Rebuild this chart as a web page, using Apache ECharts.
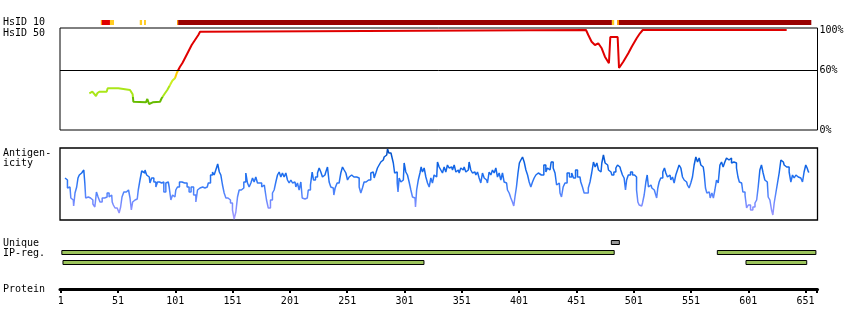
<!DOCTYPE html>
<html><head><meta charset="utf-8">
<script src="https://cdn.jsdelivr.net/npm/echarts@6/dist/echarts.min.js"></script>
<style>html,body{margin:0;padding:0;background:#fff}#c{width:850px;height:330px}</style>
</head><body><div id="c"></div>
<script>
// ---------------- data ----------------
const positionTicks = [1, 51, 101, 151, 201, 251, 301, 351, 401, 451, 501, 551, 601, 651];
const proteinEnd = 661;

// HsID 10 identity blocks (start residue, end residue, class)
const hsid10Start = [36, 37, 44, 70, 73.7, 102.5, 103.5, 482, 486.5, 488.2];
const hsid10End   = [37, 44, 47.5, 72, 75.4, 103.5, 482, 484, 488.2, 656];
const hsid10Class = ['orange', 'red', 'yellow', 'yellow', 'yellow', 'orange', 'darkred', 'yellow', 'orange', 'darkred'];

// HsID 50 identity (%) along the protein
const hsid50 = [
  [26.0,36.7],[27.4,37.7],[28.6,38.3],[30.1,36.7],[31.8,34],[32.9,36.7],[34.7,38.3],[41.1,38.3],[42.0,41.7],
  [51.3,41.7],[52.1,40],[61.5,40],[63.0,38.3],[63.8,35.7],[64.4,28.3],[75.4,27.7],[76.6,31],[77.4,31],
  [78.1,26],[79.5,26.7],[81.3,27.7],[87.7,28.3],[89.1,31.7],[92.0,36.7],[94.0,40],[96.4,45],[98.4,49.3],
  [100.7,51.7],[102.2,56.7],[103.6,60],[105.1,63.3],[107.1,66.7],[108.6,70],[112.3,78.3],[115.3,85],
  [118.2,90],[121.1,95],[122.6,98.3],[124.0,100],[459.4,100],[461.4,95],[464.3,88.3],[467.2,85],
  [470.1,86.7],[473.1,81.7],[475.9,73.3],[479.4,66.7],[480.0,66],[480.6,93],[487.0,93],[488.2,62],
  [491.9,68.3],[496.3,76.7],[499.3,83.3],[503.6,91.7],[506.5,96.7],[508.9,100],[634.5,100]
];

// Antigenicity profile
const antigenicity = [
  [4.8,42],[6.2,40],[7.6,32],[9.1,33],[10.6,22],[12,20],[12.6,14],[14.4,27],[15.5,33],[16.7,42],[17.8,45],[19.3,47],[20.7,49],[21.6,50],[22.5,37],[23.1,22],[24.2,23],[26,22],[28.1,20],[30.1,16],[31.5,13],[32.9,28],[34.4,23],[36.2,18],[38.2,22],[40.5,23],[42.5,27],[44,23],[45.5,25],[46.4,18],[47.5,15],[49.3,12],[51.3,10],[52.7,7],[53.9,13],[55.1,23],[57.1,28],[59.5,30],[60.9,28],[62.1,22],[63.2,10],[64.4,18],[65.9,20],[67.8,21],[69.6,30],[70.8,40],[72.6,49],[73.7,47],[75.4,50],[76.6,45],[78.3,43],[79.5,37],[81.3,42],[83.3,38],[84.8,33],[86.2,38],[88.3,37],[90,38],[92,28],[93.5,37],[94.9,38],[96.4,33],[97.9,20],[99.3,25],[100.7,23],[102.2,30],[103.6,33],[105.7,38],[108,37],[110.3,37],[112.3,33],[113.8,28],[115.8,33],[118.2,25],[119.7,18],[121.1,30],[122.6,32],[124.9,33],[126.9,32],[128.9,33],[130.7,37],[132.8,45],[134.2,48],[135.6,45],[137.1,50],[138.9,56],[140,48],[141.5,45],[142.9,35],[144.4,27],[145.9,22],[148.1,20],[150.2,17],[151.6,10],[153.1,1],[154.6,8],[156,23],[157.5,30],[159.8,32],[161.8,38],[163.3,47],[164.7,37],[166.2,33],[167.7,37],[169.1,42],[170.5,38],[172,43],[173.4,37],[175.5,37],[177.3,33],[178.7,35],[179.9,30],[181.3,20],[183,12],[185.1,20],[186.5,27],[188,30],[189.5,38],[190.9,45],[192.4,48],[193.8,43],[195.2,47],[196.7,43],[198.2,47],[199.6,40],[201.1,37],[202.6,40],[204,37],[205.5,38],[206.9,33],[208.3,37],[209.8,30],
  [211.3,38],[212.2,22],[214.2,21],[216.2,22],[217.9,30],[220,35],[220.9,48],[222.3,40],[224.4,43],[225.8,47],[227.3,52],[228.7,48],[230.2,43],[231.6,45],[233.1,48],[234.5,53],[236,38],[237.4,33],[238.9,32],[239.8,25],[241.2,32],[243.2,37],[244.7,38],[246.2,47],[247.6,53],[249.1,50],[250.6,47],[252,40],[253.5,43],[254.9,45],[256.9,43],[259.3,43],[260.7,42],[262.2,33],[263.6,27],[265,32],[266.5,38],[268.5,40],[270.9,40],[272.3,47],[273.8,48],[275.3,42],[276.7,47],[278.1,52],[279.6,55],[281.1,58],[282.5,60],[284,63],[285.5,65],[286.9,71],[287.8,67],[289.2,67],[290.7,65],[291.8,57],[293,47],[294.2,48],[295.1,37],[295.6,28],[297.1,42],[298.6,38],[300,40],[301.4,57],[302.9,48],[304.3,45],[305.8,38],[307.3,30],[308.7,23],[310.2,22],[311,13],[312.2,30],[313.9,40],[315.1,47],[316,53],[317.4,48],[318.9,52],[320.4,43],[321.8,37],[323.3,33],[324.7,42],[326.1,37],[327.6,45],[329.1,43],[330.5,58],[332,53],[333.4,50],[334.9,47],[336.3,53],[337.8,48],[339.2,55],[340.7,52],[342.2,53],[343.6,50],[345.1,55],[346.6,48],[348,50],[349.4,47],[350.9,52],[352.3,50],[353.8,53],[355.3,48],[356.7,50],[358.1,58],[359.6,50],[361,47],[362.5,48],[364,45],[365.4,48],[366.9,42],[368.3,37],[369.8,47],[371.3,42],[372.7,40],[374.1,37],[375.6,48],[377.1,45],[378.5,50],[380,47],[381.4,52],[382.9,43],[384.3,47],[385.8,40],[387.2,47],[388.7,38],[390.1,37],[391.6,30],[393.1,27],[394.5,22],[395.9,18],[396.8,14],[398,23],[399.4,33],[400.7,47],[401.8,57],[403.3,60],[404.7,63],[406.2,58],[407.7,50],[409.1,45],[410.5,38],[412,33],[413.4,38],[414.9,42],[416.4,45],[417.8,47],
  [419.3,45],[421.6,45],[423.6,55],[425.1,48],[426.5,52],[428,50],[430,58],[431.5,52],[433.2,47],[434.3,35],[436.1,37],[437.3,27],[438.7,23],[440.2,33],[441.9,37],[443.9,47],[446,43],[447.8,47],[449.2,42],[451.3,50],[452.7,43],[454.1,43],[455.6,38],[457,33],[458.5,27],[460.5,27],[462.3,32],[463.5,38],[465.2,47],[466.6,58],[468.1,53],[469.6,57],[471,50],[472.5,48],[473.9,57],[475.3,65],[476.8,57],[478.3,55],[479.7,50],[481.2,48],[482.7,45],[484.7,48],[486.2,52],[487.6,55],[489,53],[490.5,50],[491.9,45],[493.4,42],[494.3,30],[495.4,40],[497.2,45],[499.3,48],[500.7,45],[502.8,43],[504.2,30],[505.1,18],[506.5,15],[508,14],[509.4,17],[510.9,25],[512.4,38],[513.2,45],[514.6,33],[516.1,35],[517.6,32],[519,30],[520.5,28],[521.6,22],[522.5,32],[523.9,38],[525.4,42],[527.4,48],[528.3,52],[529.8,47],[531.2,43],[532.7,45],[534.1,40],[535.6,43],[537,37],[538.5,45],[539.9,50],[541.4,55],[542.9,52],[544.3,43],[545.8,40],[547.2,38],[548.6,35],[550.1,32],[551.6,37],[553,43],[554.5,55],[556,63],[557.4,58],[558.9,62],[560.3,55],[561.7,53],[563.2,47],[564.1,32],[565.6,27],[567,28],[568.5,22],[570,27],[571.1,22],[572.6,30],[574,40],[575.5,37],[577,55],[578.3,58],[579.8,53],[581.3,58],[582.7,62],[584.2,60],[585.6,62],[587.1,57],[588.5,58],[590,57],[591.4,52],[592.6,43],[593.8,38],[595.2,37],[597.3,28],[599,25],[600.1,12],[601.9,15],[604,10],[606,13],[607.7,17],[608.9,20],[610.4,33],[611.8,50],[613.2,55],[614.7,47],[616.2,40],[617.6,38],[619.1,23],[620.6,20],[622,10],[622.9,5],[624.3,17],[625.8,27],[627.2,37],[628.7,47],[630.2,60],[631.6,58],[633,55],[634.5,53],[635.9,53],[637.4,48],[638.9,38],[640.3,45],[641.8,42],[643.3,45],[644.6,43],[646.1,42],[647.6,40],[649,38],[650.4,48],[651.9,55],[652.8,52],[654.2,48]
];

// Unique region and IP-reg. matches: [start, end]
const uniqueRegions = [[481.5, 488.5]];
const ipRegRow1 = [[2, 484], [574, 660]];
const ipRegRow2 = [[3, 318], [599, 652]];

// ---------------- styles ----------------
const FONT = '"DejaVu Sans Mono", monospace';
const classColor = { darkred: '#990000', red: '#e00000', yellow: '#ffcc22', orange: '#ff9900' };
const X_MIN = 0.4, X_MAX = 661.4;
const LEFT = 60, WIDTH = 757.5;

const chart = echarts.init(document.getElementById('c'), null, { renderer: 'canvas' });

function hiddenX(gi) { return { type: 'value', gridIndex: gi, min: X_MIN, max: X_MAX, show: false }; }

const hsid10Data = hsid10Start.map((s, i) => [s, hsid10End[i]]);
const regionData = []
  .concat(uniqueRegions.map(r => [r[0], r[1], 0]))
  .concat(ipRegRow1.map(r => [r[0], r[1], 1]))
  .concat(ipRegRow2.map(r => [r[0], r[1], 2]));

const option = {
  backgroundColor: '#fff',
  animation: false,
  grid: [
    { left: LEFT, width: WIDTH, top: 20, height: 5 },
    { left: LEFT, width: WIDTH, top: 28, height: 102, show: true, borderColor: '#000', borderWidth: 1, backgroundColor: 'transparent' },
    { left: LEFT, width: WIDTH, top: 148, height: 72, show: true, borderColor: '#000', borderWidth: 1.3, backgroundColor: 'transparent' },
    { left: LEFT, width: WIDTH, top: 237.5, height: 30 },
    { left: LEFT, width: WIDTH, top: 288.5, height: 1 }
  ],
  xAxis: [
    hiddenX(0), hiddenX(1), hiddenX(2), hiddenX(3),
    {
      type: 'value', gridIndex: 4, min: X_MIN, max: X_MAX, position: 'bottom',
      axisLine: { show: true, onZero: false, lineStyle: { color: '#000', width: 3 } },
      axisTick: { show: true, customValues: positionTicks.concat([proteinEnd]), length: 3.5, lineStyle: { color: '#000', width: 2 } },
      axisLabel: { customValues: positionTicks, color: '#000', fontFamily: FONT, fontSize: 10, margin: 7 },
      splitLine: { show: false }
    }
  ],
  yAxis: [
    { type: 'value', gridIndex: 0, min: 0, max: 1, show: false },
    {
      type: 'value', gridIndex: 1, min: 0, max: 102, position: 'right',
      axisLine: { show: false }, axisTick: { show: false }, splitLine: { show: false },
      axisLabel: { customValues: [0, 60, 100], formatter: '{value}%', color: '#000', fontFamily: FONT, fontSize: 10, margin: 2 }
    },
    { type: 'value', gridIndex: 2, min: 0, max: 72, show: false },
    { type: 'value', gridIndex: 3, min: 0, max: 3, inverse: true, show: false },
    { type: 'value', gridIndex: 4, min: 0, max: 1, show: false }
  ],
  visualMap: [
    {
      type: 'piecewise', show: false, seriesIndex: 1, dimension: 1,
      pieces: [
        { lt: 33, color: '#66bb00' },
        { gte: 33, lt: 44, color: '#aae619' },
        { gte: 44, lt: 52, color: '#ccee22' },
        { gte: 52, lt: 60, color: '#ffcc00' },
        { gte: 60, color: '#e00000' }
      ]
    },
    {
      type: 'continuous', show: false, seriesIndex: 2, dimension: 1, min: 0, max: 72,
      inRange: { color: ['#a89cff', '#7d8cff', '#4a82fa', '#1f6ff0', '#0b60e0', '#0048b8'] }
    }
  ],
  series: [
    {
      type: 'custom', xAxisIndex: 0, yAxisIndex: 0, data: hsid10Data, clip: false,
      renderItem: function (params, api) {
        const p0 = api.coord([api.value(0), 1]);
        const p1 = api.coord([api.value(1), 0]);
        return { type: 'rect', shape: { x: p0[0], y: p0[1], width: p1[0] - p0[0], height: p1[1] - p0[1] },
          style: { fill: classColor[hsid10Class[params.dataIndex]] } };
      }
    },
    {
      type: 'line', xAxisIndex: 1, yAxisIndex: 1, data: hsid50, showSymbol: false, symbol: 'none',
      lineStyle: { width: 2 }, clip: false,
      markLine: {
        silent: true, symbol: ['none', 'none'], label: { show: false },
        lineStyle: { color: '#000', width: 1, type: 'solid' },
        data: [{ yAxis: 60 }]
      }
    },
    {
      type: 'line', xAxisIndex: 2, yAxisIndex: 2, data: antigenicity, showSymbol: false, symbol: 'none',
      step: 'middle', lineStyle: { width: 1.5 }
    },
    {
      type: 'custom', xAxisIndex: 3, yAxisIndex: 3, data: regionData, clip: false,
      renderItem: function (params, api) {
        const row = api.value(2);
        const p0 = api.coord([api.value(0), row + 0.3]);
        const p1 = api.coord([api.value(1), row + 0.7]);
        return { type: 'rect', shape: { x: p0[0], y: p0[1], width: p1[0] - p0[0], height: p1[1] - p0[1] },
          style: { fill: row === 0 ? '#999999' : '#9cc45c', stroke: '#000', lineWidth: 1 } };
      }
    }
  ],
  graphic: [
    { type: 'text', style: { text: 'HsID 10', x: 3, y: 22.5, verticalAlign: 'middle', font: '10px ' + FONT, fill: '#000' } },
    { type: 'text', style: { text: 'HsID 50', x: 3, y: 33, verticalAlign: 'middle', font: '10px ' + FONT, fill: '#000' } },
    { type: 'text', style: { text: 'Antigen-', x: 3, y: 153, verticalAlign: 'middle', font: '10px ' + FONT, fill: '#000' } },
    { type: 'text', style: { text: 'icity', x: 3, y: 163.3, verticalAlign: 'middle', font: '10px ' + FONT, fill: '#000' } },
    { type: 'text', style: { text: 'Unique', x: 3, y: 243, verticalAlign: 'middle', font: '10px ' + FONT, fill: '#000' } },
    { type: 'text', style: { text: 'IP-reg.', x: 3, y: 253, verticalAlign: 'middle', font: '10px ' + FONT, fill: '#000' } },
    { type: 'text', style: { text: 'Protein', x: 3, y: 289.5, verticalAlign: 'middle', font: '10px ' + FONT, fill: '#000' } }
  ]
};
chart.setOption(option);
</script>
</body></html>
